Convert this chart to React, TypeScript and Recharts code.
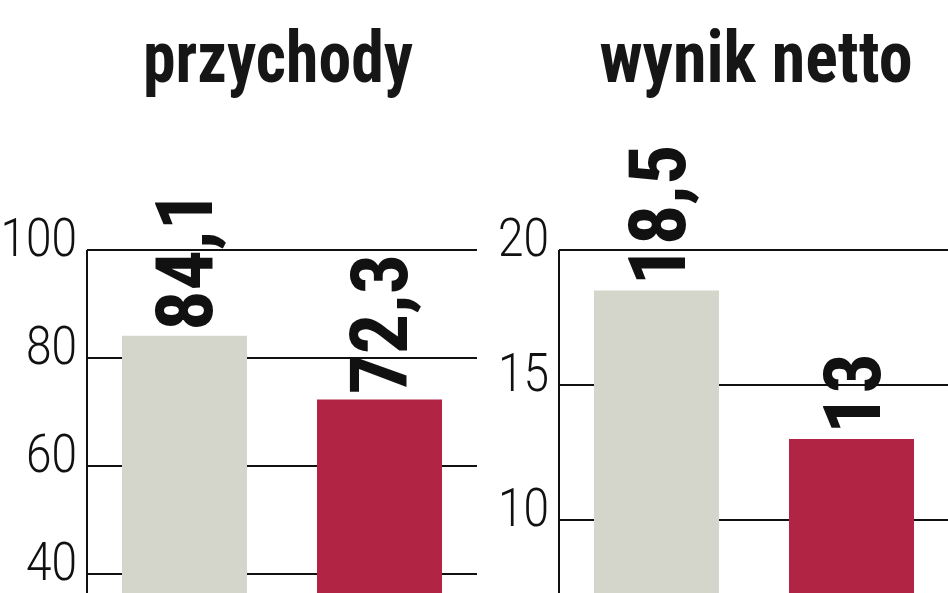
import React from 'react';
import { BarChart, Bar, XAxis, YAxis, CartesianGrid, Cell, LabelList } from 'recharts';

const periods = ['okres poprzedni', 'okres bieżący'];
const revenue = [84.1, 72.3];
const netProfit = [18.5, 13];
const barColors = ['#d5d6cb', '#b12443'];
const revenueTicks = [40, 60, 80, 100];
const profitTicks = [10, 15, 20];
const titles = ['przychody', 'wynik netto'];

const revenueData = periods.map((p, i) => ({ name: p, value: revenue[i] }));
const profitData = periods.map((p, i) => ({ name: p, value: netProfit[i] }));

const NARROW = '"Liberation Sans Narrow", "Roboto Condensed", "DejaVu Sans Condensed", "Liberation Sans", sans-serif';
const LIGHT = 'Roboto, "Liberation Sans Narrow", sans-serif';

const fmt = (v: number) => String(v).replace('.', ',');

const Tick = (props: any) => {
  const { x, y, payload } = props;
  const label = String(payload.value);
  return (
    <text
      x={x}
      y={y + 6}
      textAnchor="end"
      fontFamily={LIGHT}
      fontWeight={300}
      fontSize={53}
      textLength={label.length * 25.5}
      lengthAdjust="spacingAndGlyphs"
      fill="#111"
    >
      {label}
    </text>
  );
};

const ValueLabel = (props: any) => {
  const { x, y, width, value } = props;
  const tx = x + width / 2 + 28;
  const ty = y - 5;
  return (
    <text
      x={tx}
      y={ty}
      transform={`rotate(-90 ${tx} ${ty})`}
      fontFamily={NARROW}
      fontWeight={700}
      fontSize={80}
      fill="#111"
    >
      {fmt(value)}
    </text>
  );
};

const Panel = ({ data, domain, ticks }: { data: any[]; domain: [number, number]; ticks: number[] }) => (
  <BarChart width={477} height={800} data={data} margin={{ top: 250, right: 0, bottom: 10, left: 0 }}>
    <CartesianGrid horizontal vertical={false} stroke="#111" strokeWidth={2} />
    <XAxis dataKey="name" hide />
    <YAxis
      width={87}
      domain={domain}
      ticks={ticks}
      interval={0}
      tickLine={false}
      tickMargin={4}
      axisLine={{ stroke: '#111', strokeWidth: 2 }}
      tick={<Tick />}
    />
    <Bar dataKey="value" barSize={125} isAnimationActive={false}>
      {data.map((d, i) => (
        <Cell key={d.name} fill={barColors[i]} />
      ))}
      <LabelList dataKey="value" content={<ValueLabel />} />
    </Bar>
  </BarChart>
);

export default function App() {
  return (
    <div
      style={{
        position: 'absolute',
        left: 0,
        top: 0,
        width: 948,
        height: 593,
        overflow: 'hidden',
        background: '#fff',
      }}
    >
      <div style={{ position: 'absolute', left: 0, top: 0 }}>
        <Panel data={revenueData} domain={[0, 100]} ticks={revenueTicks} />
      </div>
      <div style={{ position: 'absolute', left: 472, top: 0 }}>
        <Panel data={profitData} domain={[0, 20]} ticks={profitTicks} />
      </div>
      <svg width={948} height={120} style={{ position: 'absolute', left: 0, top: 0 }}>
        <text
          x={278}
          y={82}
          textAnchor="middle"
          fontFamily={NARROW}
          fontWeight={700}
          fontSize={72}
          textLength={270}
          lengthAdjust="spacingAndGlyphs"
          fill="#161616"
        >
          {titles[0]}
        </text>
        <text
          x={756}
          y={82}
          textAnchor="middle"
          fontFamily={NARROW}
          fontWeight={700}
          fontSize={72}
          textLength={313}
          lengthAdjust="spacingAndGlyphs"
          fill="#161616"
        >
          {titles[1]}
        </text>
      </svg>
    </div>
  );
}
